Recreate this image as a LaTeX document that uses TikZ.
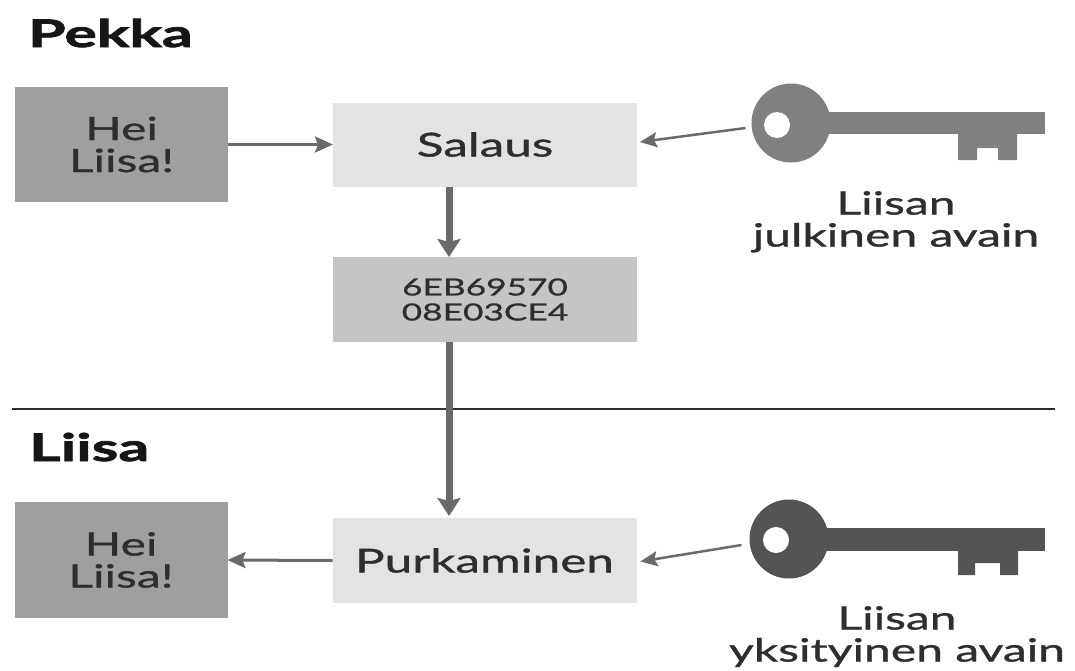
\documentclass[tikz,border=0pt]{standalone}
\usepackage{fontspec}
\usetikzlibrary{arrows.meta}
\newfontfamily\latow{Lato}[FakeStretch=1.5,FakeBold=1]
\newfontfamily\latot{Lato}[FakeStretch=1.6,BoldFeatures={FakeBold=2}]
\definecolor{darkbox}{HTML}{9F9F9F}
\definecolor{lightbox}{HTML}{E3E3E3}
\definecolor{midbox}{HTML}{C5C5C5}
\definecolor{txt}{HTML}{2E2E2E}
\definecolor{titlec}{HTML}{161616}
\definecolor{arrc}{HTML}{6A6A6A}
\definecolor{keyone}{HTML}{808080}
\definecolor{keytwo}{HTML}{545454}
\definecolor{rulec}{HTML}{2E2E2E}
\tikzset{
 box/.style={inner sep=0pt, outer sep=0pt, align=center, text=txt},
 msgbox/.style={box, fill=darkbox, minimum width=213pt, minimum height=115pt, font=\latow\fontsize{32}{32}\selectfont},
 procbox/.style={box, fill=lightbox, minimum width=304pt, minimum height=84pt, font=\latow\fontsize{33}{36}\selectfont},
 cipherbox/.style={box, fill=midbox, minimum width=304pt, minimum height=85pt, font=\latow\fontsize{23.5}{25}\selectfont},
 title/.style={anchor=base west, inner sep=0pt, font=\latot\bfseries\fontsize{38}{40}\selectfont, text=titlec},
 keylabel/.style={anchor=north, inner sep=0pt, align=center, font=\latow\fontsize{32}{32}\selectfont, text=txt},
 keyhead/.style={circle, inner sep=0pt, outer sep=0pt, minimum size=79pt},
 harrow/.style={draw=arrc, line width=3pt, -{Stealth[length=18pt,width=16pt,inset=3pt]}},
 varrow/.style={draw=arrc, line width=7pt, -{Stealth[length=18pt,width=23pt,inset=3pt]}},
 keyarrow/.style={draw=arrc, line width=2.5pt, -{Stealth[length=17pt,width=15pt,inset=3pt]}},
}
\begin{document}
\begin{tikzpicture}[x=1pt,y=-1pt]
\useasboundingbox[fill=white] (0,0) rectangle (1075,670);

% titles
\node[title] (tp) at (28,47) {Pekka};
\node[title] (tl) at (29,461) {Liisa};

% separator
\coordinate (rl) at (12,409);
\coordinate (rr) at (1055,409);
\draw[rulec, line width=2pt] (rl) -- (rr);

% boxes
\node[msgbox] (m1) at (121.5,144.5) {Hei\\Liisa!};
\node[procbox] (s1) at (485,144.5) {Salaus};
\node[cipherbox] (c1) at (485,299.5) {6EB69570\\08E03CE4};
\node[msgbox, minimum height=116pt] (m2) at (121,560) {Hei\\Liisa!};
\node[procbox, minimum height=85pt] (p1) at (484.5,560.5) {Purkaminen};

% key 1 (public)
\node[keyhead, fill=keyone] (k1) at (791,123) {};
\fill[keyone] (825,112) rectangle (1045,134);
\fill[keyone] (958,133) -- (958,160) -- (977,160) -- (977,148) -- (998,148) -- (998,160) -- (1017,160) -- (1017,133) -- cycle;
\fill[white] (777,125) circle[radius=13pt];
\node[keylabel] (l1) at (896,191) {Liisan\\julkinen avain};

% key 2 (private)
\node[keyhead, fill=keytwo] (k2) at (789,539) {};
\fill[keytwo] (825,528) rectangle (1045,551);
\fill[keytwo] (958,550) -- (958,575) -- (975,575) -- (975,563) -- (1000,563) -- (1000,575) -- (1018,575) -- (1018,550) -- cycle;
\fill[white] (776,540) circle[radius=13pt];
\node[keylabel] (l2) at (897,606) {Liisan\\yksityinen avain};

% connectors
\draw[harrow] (m1.east) -- (s1.west);
\draw[keyarrow] ([xshift=-6pt,yshift=-5pt]k1.west) -- ([xshift=3pt,yshift=2.5pt]s1.east);
\draw[varrow] ([xshift=-36pt]s1.south) -- ([xshift=-36pt]c1.north);
\draw[varrow] ([xshift=-36pt]c1.south) -- ([xshift=-35.5pt,yshift=2pt]p1.north);
\draw[harrow] (p1.west) -- (m2.east);
\draw[keyarrow] ([xshift=-8pt,yshift=-6pt]k2.west) -- ([xshift=4pt,yshift=-1pt]p1.east);
\end{tikzpicture}
\end{document}
